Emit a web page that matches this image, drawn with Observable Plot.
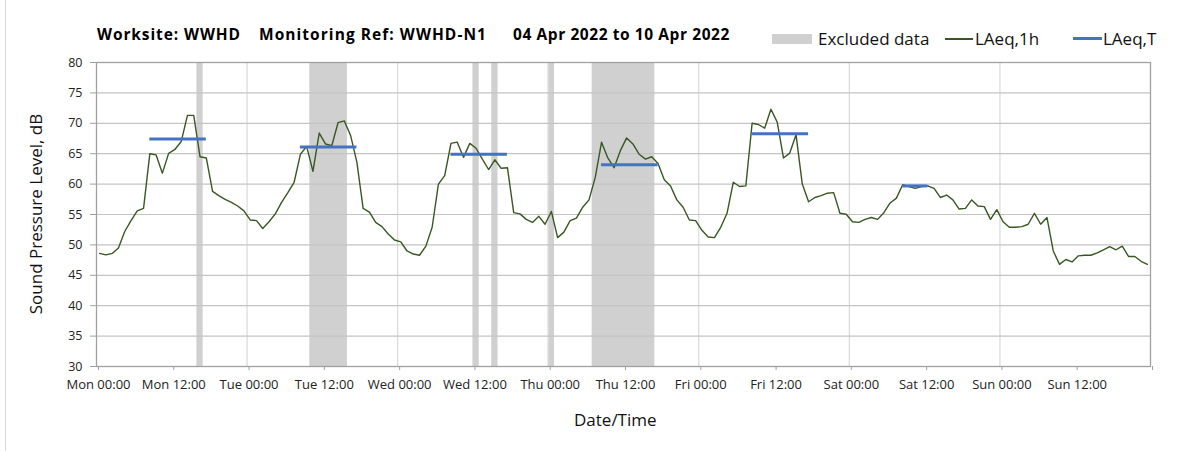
<!DOCTYPE html>
<html>
<head>
<meta charset="utf-8">
<script src="https://cdn.jsdelivr.net/npm/d3@7"></script>
<script src="https://cdn.jsdelivr.net/npm/@observablehq/plot@0.6"></script>
<style>
  body { margin: 0; background: #fff; }
  #wrap { position: relative; width: 1203px; height: 451px; overflow: hidden; font-family: "Open Sans", sans-serif; color: #000; }
  .abs { position: absolute; white-space: nowrap; line-height: 1; }
  .title { font-weight: bold; font-size: 15.5px; top: 27px; }
  .leg { font-size: 17px; top: 30px; color: #111; }
  #chart { position: absolute; left: 0; top: 50px; }
  #frameLine { position: absolute; left: 5px; top: 0; width: 1px; height: 451px; background: #d9d9d9; }
</style>
</head>
<body>
<div id="wrap">
  <div id="frameLine"></div>
  <div class="abs title" data-w="144" style="left:97px">Worksite: WWHD</div>
  <div class="abs title" data-w="228" style="left:259px">Monitoring Ref: WWHD-N1</div>
  <div class="abs title" data-w="217" style="left:513px">04 Apr 2022 to 10 Apr 2022</div>
  <div class="abs" style="left:772px;top:34px;width:40px;height:10px;background:#d0d0d0"></div>
  <div class="abs leg" style="left:818px">Excluded data</div>
  <div class="abs" style="left:945px;top:38px;width:28px;height:1.5px;background:#385723"></div>
  <div class="abs leg" style="left:975px">LAeq,1h</div>
  <div class="abs" style="left:1073px;top:37px;width:29px;height:3px;background:#4472c4"></div>
  <div class="abs leg" style="left:1103px">LAeq,T</div>
  <div id="chart"></div>
  <div class="abs" style="left:574px;top:411px;font-size:17px;color:#111">Date/Time</div>
  <div class="abs" style="left:35px;top:214px;font-size:17px;color:#111;transform:translate(-50%,-50%) rotate(-90deg)">Sound Pressure Level, dB</div>
</div>
<script>
// ---- data ----
const startDate = "2022-04-04T00:00:00Z"; // Monday 04 Apr 2022
const laeq1h = [
  48.6, 48.35, 48.6, 49.5, 52.2, 54.0, 55.6, 56.0, 65.0, 64.8, 61.8, 65.05, 65.7, 67.0, 71.3, 71.3, 64.5, 64.3, 58.8, 58.1, 57.5, 57.0, 56.4, 55.6,
  54.1, 54.0, 52.7, 53.8, 55.1, 57.0, 58.6, 60.3, 64.9, 66.2, 62.1, 68.4, 66.6, 66.3, 70.1, 70.4, 68.0, 63.6, 56.0, 55.4, 53.7, 53.0, 51.8, 50.8,
  50.5, 49.0, 48.5, 48.3, 49.8, 52.9, 60.0, 61.4, 66.7, 66.9, 64.4, 66.7, 65.9, 64.1, 62.4, 64.0, 62.6, 62.7, 55.3, 55.1, 54.2, 53.7, 54.7, 53.4,
  55.5, 51.2, 52.1, 54.0, 54.4, 56.2, 57.4, 61.1, 66.9, 64.3, 62.7, 65.5, 67.6, 66.6, 64.9, 64.1, 64.5, 63.4, 60.7, 59.7, 57.4, 56.2, 54.1, 54.0,
  52.4, 51.3, 51.2, 52.9, 55.2, 60.3, 59.6, 59.7, 70.0, 69.8, 69.2, 72.3, 70.2, 64.3, 65.1, 68.1, 60.0, 57.1, 57.8, 58.1, 58.5, 58.6, 55.2, 55.05,
  53.8, 53.7, 54.2, 54.5, 54.2, 55.3, 56.9, 57.7, 59.9, 59.6, 59.3, 59.6, 59.7, 59.3, 57.8, 58.2, 57.4, 55.9, 56.0, 57.4, 56.4, 56.3, 54.2, 55.8,
  53.8, 52.9, 52.9, 53.0, 53.4, 55.2, 53.4, 54.5, 49.0, 46.8, 47.6, 47.2, 48.2, 48.3, 48.3, 48.7, 49.2, 49.7, 49.2, 49.8, 48.1, 48.1, 47.3, 46.8
];
// excluded periods, hours since start
const excludedStart = [16, 34, 60, 63, 72, 79];
const excludedEnd   = [17, 40, 61, 64, 73, 89];
// LAeq,T periods: first and last hour of the period, and level
const periodFirstHour = [8, 32, 56, 80, 104, 128];
const periodLastHour  = [17, 41, 65, 89, 113, 132];
const laeqT = [67.4, 66.1, 64.9, 63.2, 68.3, 59.7];
const xTickLabels = ["Mon 00:00", "Mon 12:00", "Tue 00:00", "Tue 12:00", "Wed 00:00", "Wed 12:00", "Thu 00:00",
  "Thu 12:00", "Fri 00:00", "Fri 12:00", "Sat 00:00", "Sat 12:00", "Sun 00:00", "Sun 12:00", ""];
const yTicks = [30, 35, 40, 45, 50, 55, 60, 65, 70, 75, 80];

// ---- build ----
const t0 = Date.parse(startDate);
const H = 3600e3;
const hour = h => new Date(t0 + h * H);
const hourly = laeq1h.map((v, i) => ({t: hour(i + 0.5), v}));
const excl = excludedStart.map((s, i) => ({x1: hour(s), x2: hour(excludedEnd[i])}));
const periods = periodFirstHour.map((s, i) => ({x1: hour(s + 0.5), x2: hour(periodLastHour[i] + 0.5), y: laeqT[i]}));
const xTicks = xTickLabels.map((_, i) => hour(i * 12));
const labelMap = new Map(xTicks.map((d, i) => [+d, xTickLabels[i]]));
const dayLines = xTicks.filter((d, i) => i % 2 === 0 && i > 0 && i < xTicks.length - 1);

const chart = Plot.plot({
  width: 1203,
  height: 401,
  marginLeft: 96,
  marginRight: 53,
  marginTop: 12,
  marginBottom: 85,
  x: {type: "utc", domain: [hour(0), hour(168)]},
  y: {domain: [30, 80]},
  style: {fontFamily: "Open Sans, sans-serif", color: "#222", background: "transparent"},
  marks: [
    Plot.rect(excl, {x1: "x1", x2: "x2", fill: "#d0d0d0"}),
    Plot.ruleX(dayLines, {stroke: "#dadada", strokeWidth: 1.2}),
    Plot.ruleY(yTicks, {stroke: "#c4c4c4", strokeWidth: 1.2}),
    Plot.frame({stroke: "#a0a0a0", strokeWidth: 1.3}),
    Plot.axisY({ticks: yTicks, tickSize: 6, tickPadding: 8, label: null, fontSize: 12.5, stroke: "#a0a0a0"}),
    Plot.axisX({ticks: xTicks, tickSize: 4, tickPadding: 9, label: null, fontSize: 13, stroke: "#a0a0a0",
      tickFormat: d => labelMap.get(+d) ?? "", dx: 2}),
    Plot.line(hourly, {x: "t", y: "v", stroke: "#385723", strokeWidth: 1.4}),
    Plot.ruleY(periods, {y: "y", x1: "x1", x2: "x2", stroke: "#4472c4", strokeWidth: 3})
  ]
});
document.getElementById("chart").appendChild(chart);

// fit title pieces to their measured widths
document.querySelectorAll(".title").forEach(el => {
  const target = +el.dataset.w;
  const w = el.getBoundingClientRect().width;
  const n = el.textContent.length;
  el.style.letterSpacing = ((target - w) / n) + "px";
});
</script>
</body>
</html>
